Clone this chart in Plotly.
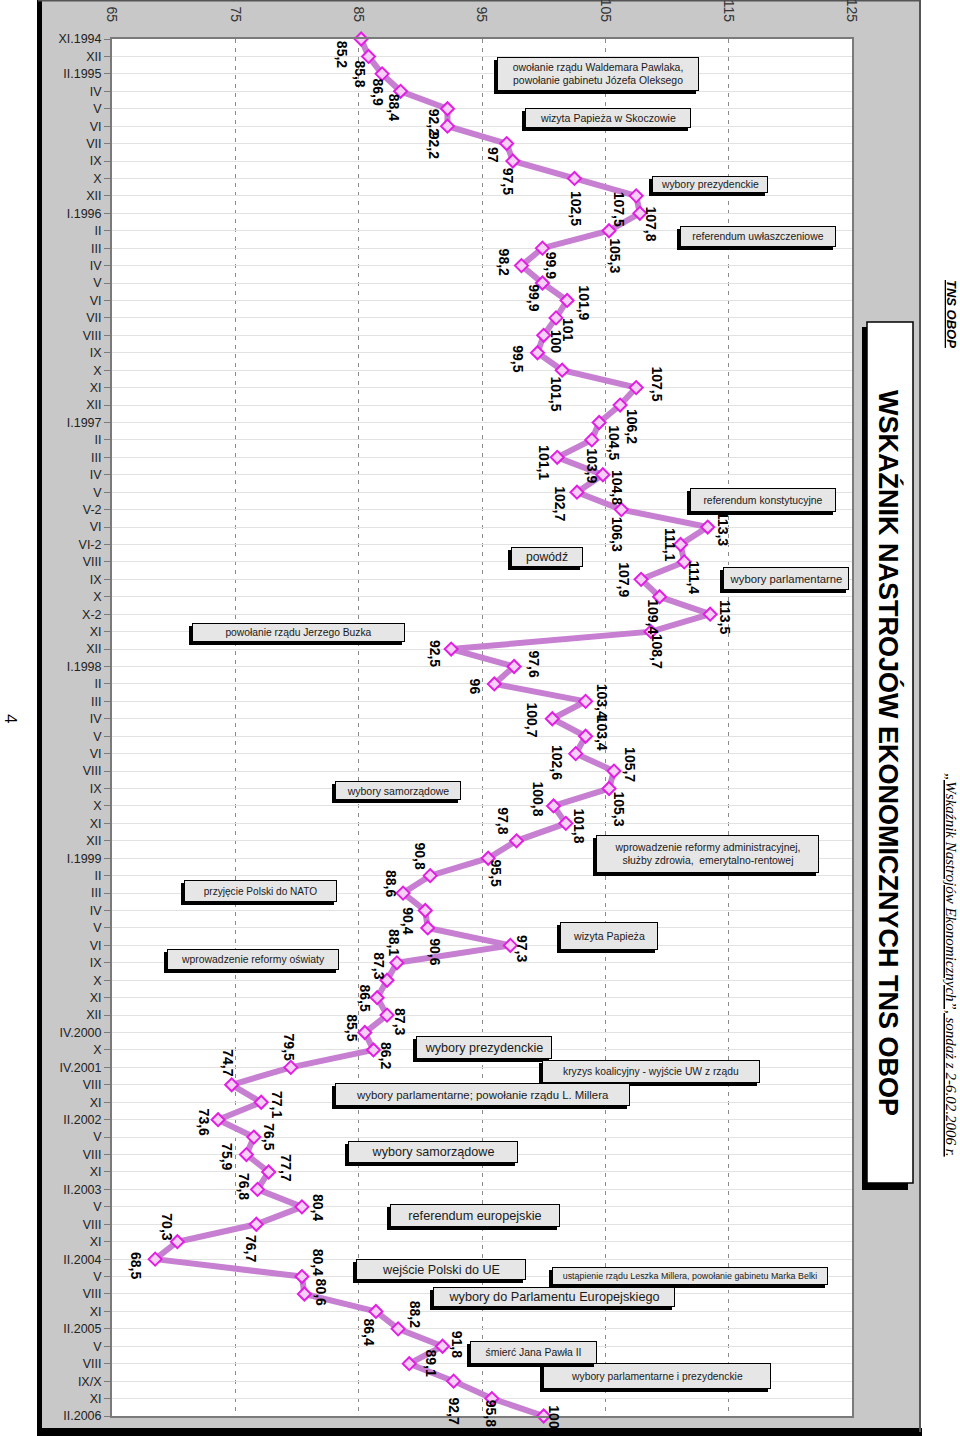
import plotly.graph_objects as go

# ---------------- data ----------------
categories = ["XI.1994", "XII", "II.1995", "IV", "V", "VI", "VII", "IX", "X", "XII",
              "I.1996", "II", "III", "IV", "V", "VI", "VII", "VIII", "IX", "X", "XI", "XII",
              "I.1997", "II", "III", "IV", "V", "V-2", "VI", "VI-2", "VIII", "IX", "X", "X-2", "XI", "XII",
              "I.1998", "II", "III", "IV", "V", "VI", "VIII", "IX", "X", "XI", "XII",
              "I.1999", "II", "III", "IV", "V", "VI", "IX", "X", "XI", "XII",
              "IV.2000", "X", "IV.2001", "VIII", "XI", "II.2002", "V", "VIII", "XI",
              "II.2003", "V", "VIII", "XI", "II.2004", "V", "VIII", "XI",
              "II.2005", "V", "VIII", "IX/X", "XI", "II.2006"]

values = [85.2, 85.8, 86.9, 88.4, 92.2, 92.2, 97, 97.5, 102.5, 107.5,
          107.8, 105.3, 99.9, 98.2, 99.9, 101.9, 101, 100, 99.5, 101.5, 107.5, 106.2,
          104.5, 103.9, 101.1, 104.8, 102.7, 106.3, 113.3, 111.1, 111.4, 107.9, 109.4, 113.5, 108.7, 92.5,
          97.6, 96, 103.4, 100.7, 103.4, 102.6, 105.7, 105.3, 100.8, 101.8, 97.8,
          95.5, 90.8, 88.6, 90.4, 90.6, 97.3, 88.1, 87.3, 86.5, 87.3,
          85.5, 86.2, 79.5, 74.7, 77.1, 73.6, 76.5, 75.9, 77.7,
          76.8, 80.4, 76.7, 70.3, 68.5, 80.4, 80.6, 86.4,
          88.2, 91.8, 89.1, 92.7, 95.8, 100]

value_ticks = [65, 75, 85, 95, 105, 115, 125]

# label offsets from the marker (pixels: right, down)
label_dx = [-19, -8, -4, -7, -14, -14, -13, -4.5, 1, -17,
            11, 6.5, 8, -17.5, -8.7, 16, 12, 12, -19, -6.5, 21, 12,
            14, 0, -14, 14, -17, -3.5, 16, -11, 10, -17, -6, 15, 6, -16,
            19, -19, 16, -20, 16, -18, 16, 10, -15, 13, -13,
            7.5, -10, -12, -17, 7, 11, -3, -8, -12, 13,
            -12.5, 12.5, -2, -3, 16, -14, 15, -19, 17,
            -14, 16, -6, -10, -19, 17, 17, -7,
            17, 14, 22, 0, 0, 10]
label_dy = [15, 17.5, 17.7, 16, 13.5, 19, 11, 20, 30, 13,
            11, 25, 17, -3, 15, 2, 12, 6, 6, 24, -4, 21,
            20, 26, 5, 13, 12, 25, 1.5, 0, 16, 0, 20, 3, 20, 4,
            -3, 3, 0, 1, -3, 9, -6, 20, -7, 3, -20,
            15, -20, -10, 10, 24, 3, -20, -15, 0, 6,
            -5, 6, -20, -22, 2, 2, 0, 2, -4,
            -3, 1, 24, -15, 6, -14, -2, 21,
            -15, -2, -1, 30, 15, 1]

# event boxes: text, position (value axis, category index)
event_texts = ["owołanie rządu Waldemara Pawlaka,<br>powołanie gabinetu Józefa Oleksego",
               "wizyta Papieża w Skoczowie",
               "wybory prezydenckie",
               "referendum uwłaszczeniowe",
               "referendum konstytucyjne",
               "wybory parlamentarne",
               "powódź",
               "powołanie rządu Jerzego Buzka",
               "wybory samorządowe",
               "wprowadzenie reformy administracyjnej,<br>służby zdrowia,  emerytalno-rentowej",
               "przyjęcie Polski do NATO",
               "wizyta Papieża",
               "wprowadzenie reformy oświaty",
               "wybory prezydenckie",
               "kryzys koalicyjny - wyjście UW z rządu",
               "wybory parlamentarne; powołanie rządu L. Millera",
               "wybory samorządowe",
               "referendum europejskie",
               "wejście Polski do UE",
               "ustąpienie rządu Leszka Millera, powołanie gabinetu Marka Belki",
               "wybory do Parlamentu Europejskiego",
               "wybory parlamentarne i prezydenckie",
               "śmierć Jana Pawła II"]
event_x = [104.4, 105.2, 113.45, 117.4, 117.8, 119.65, 100.3, 80.1, 88.2, 113.3, 77.0, 105.3,
           76.4, 95.2, 108.7, 95.05, 91.0, 94.4, 91.7, 111.85, 100.85, 109.2, 99.15]
event_y = [2.02, 4.52, 8.36, 11.32, 26.44, 30.94, 29.71, 34.04, 43.13, 46.75, 48.87, 51.45,
           52.8, 57.85, 59.26, 60.55, 63.88, 67.47, 70.6, 70.97, 72.15, 76.68, 75.38]
event_w = [202, 166, 116, 156, 146, 126, 72, 213, 126, 223, 153, 98,
           172, 136, 218, 295, 170, 170, 170, 276, 242, 228, 127]
event_h = [34, 20, 17, 21, 24, 23, 20, 19, 19, 38, 22, 28,
           21, 23, 23, 23, 22, 23, 21, 18, 20, 26, 23]
event_fs = [10.4, 10.6, 10.4, 10.4, 10.4, 11.3, 12.2, 10.3, 10.5, 10.4, 10.1, 10.6,
            10.4, 12.6, 10.3, 11.4, 12.6, 12.7, 12.6, 8.9, 12.7, 10.3, 10.4]

# ---------------- layout geometry ----------------
W, H = 960, 1436
L, R, T, B = 112, 108, 39, 20
PW, PH = W - L - R, H - T - B


def px(x):
    return (x - L) / PW


def py(y):
    return 1 - (y - T) / PH


SANS = "Liberation Sans, Arial, sans-serif"

idx = list(range(len(categories)))
labels = [("%g" % v).replace(".", ",") for v in values]

fig = go.Figure()
fig.add_trace(go.Scatter(
    x=values, y=idx, mode="lines+markers", cliponaxis=False,
    line=dict(color="#C77FD1", width=6),
    marker=dict(symbol="diamond", size=10, color="#F6CFF6",
                line=dict(color="#E21EE2", width=2)),
    hoverinfo="skip", showlegend=False))

ann = []
for i, (v, lab) in enumerate(zip(values, labels)):
    ann.append(dict(x=v, y=i, xref="x", yref="y", text="<b>%s</b>" % lab,
                    textangle=90, showarrow=False, xanchor="center", yanchor="middle",
                    xshift=label_dx[i], yshift=-label_dy[i],
                    font=dict(family=SANS, size=14, color="black")))

for t, ex, ey, ew, eh, fs in zip(event_texts, event_x, event_y, event_w, event_h, event_fs):
    common = dict(x=ex, y=ey, xref="x", yref="y", showarrow=False,
                  xanchor="center", yanchor="middle", width=ew - 6, height=eh - 6,
                  borderpad=2, borderwidth=1, align="center")
    # drop shadow (fixed size box, no text)
    ann.append(dict(common, text=" ", xshift=-3, yshift=-3, bgcolor="black", bordercolor="black",
                    font=dict(family=SANS, size=fs, color="black")))
    ann.append(dict(common, text=t, bgcolor="#E6E6E6", bordercolor="black",
                    font=dict(family=SANS, size=fs, color="#1a1a1a")))

# title and side texts
ann.append(dict(x=px(889), y=py(753), xref="paper", yref="paper", showarrow=False,
                text="<b>WSKAŹNIK NASTROJÓW EKONOMICZNYCH TNS OBOP</b>", textangle=90,
                xanchor="center", yanchor="middle",
                font=dict(family=SANS, size=27, color="black")))
ann.append(dict(x=px(952), y=py(314), xref="paper", yref="paper", showarrow=False,
                text="<b><i><u>TNS OBOP</u></i></b>", textangle=90,
                xanchor="center", yanchor="middle",
                font=dict(family=SANS, size=13, color="black")))
ann.append(dict(x=px(951), y=py(965), xref="paper", yref="paper", showarrow=False,
                text="<i><u>„Wskaźnik Nastrojów Ekonomicznych”, sondaż z 2-6.02.2006 r.</u></i>",
                textangle=90, xanchor="center", yanchor="middle",
                font=dict(family="Liberation Serif, Times New Roman, serif", size=15, color="black")))
ann.append(dict(x=px(11), y=py(718), xref="paper", yref="paper", showarrow=False,
                text="4", textangle=90, xanchor="center", yanchor="middle",
                font=dict(family=SANS, size=17, color="black")))


def rect(x0, y0, x1, y1, fill, layer="below", line=None):
    return dict(type="rect", xref="paper", yref="paper", x0=px(x0), x1=px(x1),
                y0=py(y1), y1=py(y0), fillcolor=fill, layer=layer,
                line=line or dict(width=0))


shapes = [
    rect(38, 0, 921, 1432, "#C8C8C8"),
    rect(L, T, L + PW, T + PH, "white"),
    rect(37, 0, 42, 1436, "black"),
    rect(37, 1428, 922, 1436, "black"),
    rect(919, 0, 921, 1432, "#555555"),
    rect(38, 0, 921, 1.5, "#555555"),
    rect(862, 327, 908, 1190, "black"),
    rect(867, 322, 913, 1183, "white", line=dict(color="black", width=1.5)),
]

fig.update_layout(
    width=W, height=H, margin=dict(l=L, r=R, t=T, b=B, autoexpand=False),
    paper_bgcolor="white", plot_bgcolor="rgba(0,0,0,0)",
    annotations=ann, shapes=shapes, showlegend=False,
    xaxis=dict(range=[65, 125], side="top", tickvals=value_ticks,
               ticktext=[str(v) for v in value_ticks], tickangle=90,
               ticks="", ticklabelstandoff=10,
               tickfont=dict(family=SANS, size=14, color="#333333"),
               showgrid=True, gridcolor="#8a8a8a", gridwidth=1, griddash="4px,5px",
               zeroline=False, showline=True, linecolor="#7a7a7a", linewidth=2, mirror=True,
               automargin=False, fixedrange=True),
    yaxis=dict(range=[len(categories) - 1, 0], tickvals=idx, ticktext=categories,
               ticks="outside", ticklen=6, tickcolor="#7a7a7a",
               tickfont=dict(family=SANS, size=12.5, color="#222222"),
               showgrid=True, gridcolor="#E2E2E2", gridwidth=1,
               zeroline=False, showline=True, linecolor="#7a7a7a", linewidth=2, mirror=True,
               automargin=False, fixedrange=True),
)

fig.write_html("out.html", config={"displayModeBar": False},
               post_script="document.body.style.margin='0px';document.body.style.overflow='hidden';")
